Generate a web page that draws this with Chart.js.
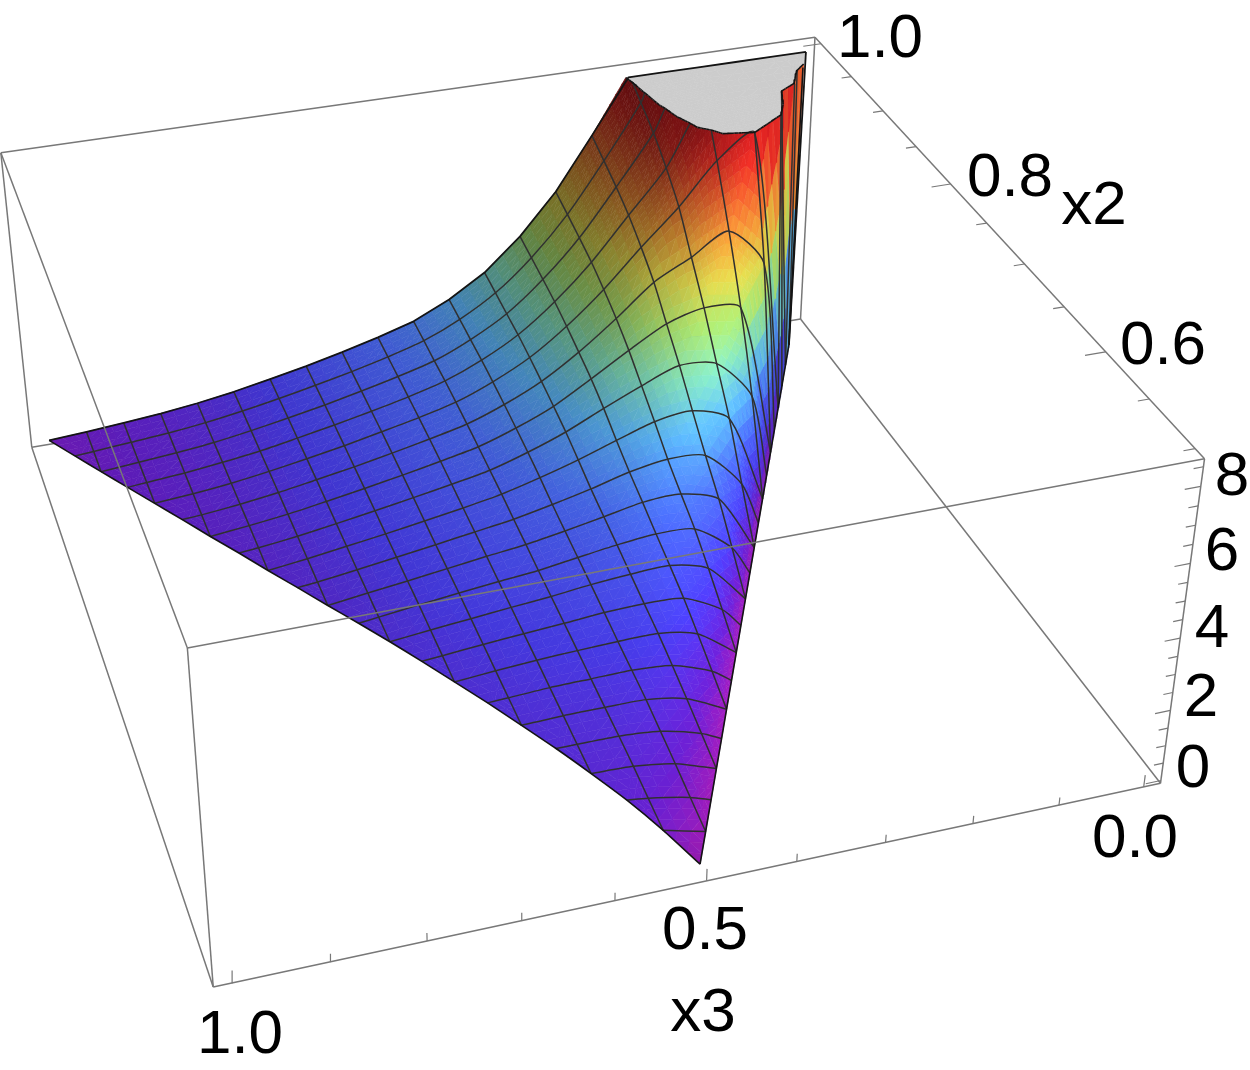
<!DOCTYPE html>
<html><head><meta charset="utf-8"><style>html,body{margin:0;padding:0;background:#fff}canvas{display:block}</style>
<script src="https://cdn.jsdelivr.net/npm/chart.js@4"></script></head><body><canvas id="c" width="1250" height="1070"></canvas>
<script>
// Tick values of the three axes
const x3TickValues=[0,.1,.2,.3,.4,.5,.6,.7,.8,.9,1];
const x2TickValues=[.5,.55,.6,.65,.7,.75,.8,.85,.9,.95,1];
const zTickValues=[0,.5,1,1.5,2,2.5,3,3.5,4,4.5,5,5.5,6,6.5,7,7.5,8,8.5];
// Surface height z, one list per mesh row x2 = 0.5 + j/42,
// running in x3 from the edge x3 = 1-x2, through the mesh values k/21, to the edge x3 = x2.
const zRow00=[0.05];
const zRow01=[0.05,0.34];
const zRow02=[0.05,0.24,0.47,0.54];
const zRow03=[0.05,0.44,0.61,0.65];
const zRow04=[0.05,0.32,0.62,0.72,0.73,0.73];
const zRow05=[0.05,0.59,0.80,0.81,0.81,0.77];
const zRow06=[0.05,0.44,0.84,0.93,0.91,0.89,0.83,0.80];
const zRow07=[0.05,0.83,1.07,1.06,1.02,0.97,0.89,0.80];
const zRow08=[0.05,0.63,1.19,1.25,1.21,1.12,1.04,0.95,0.85,0.80];
const zRow09=[0.05,1.18,1.48,1.44,1.35,1.22,1.12,1.01,0.90,0.78];
const zRow10=[0.05,0.91,1.69,1.75,1.64,1.48,1.31,1.20,1.08,0.95,0.81,0.74];
const zRow11=[0.05,1.73,2.08,2.04,1.82,1.61,1.42,1.28,1.13,0.98,0.84,0.69];
const zRow12=[0.05,1.34,2.40,2.49,2.31,2.01,1.75,1.52,1.35,1.18,1.02,0.86,0.71,0.65];
const zRow13=[0.05,2.69,3.12,2.99,2.63,2.25,1.92,1.63,1.42,1.24,1.06,0.90,0.74,0.60];
const zRow14=[0.05,2.57,3.74,3.87,3.46,2.98,2.47,2.06,1.72,1.50,1.30,1.11,0.93,0.76,0.62,0.57];
const zRow15=[0.05,4.64,4.82,4.53,3.93,3.27,2.64,2.18,1.81,1.57,1.35,1.15,0.96,0.78,0.64,0.52];
const zRow16=[0.05,5.22,6.35,5.76,5.20,4.31,3.49,2.80,2.29,1.89,1.63,1.40,1.18,0.99,0.80,0.65,0.53,0.49];
const zRow17=[0.05,8.51,7.87,6.70,5.69,4.62,3.70,2.94,2.39,1.96,1.68,1.44,1.21,1.01,0.82,0.66,0.54,0.45];
const zRow18=[0.05,11.7,11.2,9.24,7.33,6.11,4.89,3.88,3.06,2.47,2.02,1.72,1.47,1.24,1.03,0.83,0.68,0.55,0.46,0.41];
const zRow19=[0.05,17.5,13.3,10.1,7.85,6.43,5.09,4.01,3.14,2.53,2.06,1.76,1.50,1.26,1.05,0.85,0.68,0.56,0.46,0.37];
const zRow20=[0.05,28.1,22.0,14.8,10.9,8.25,6.70,5.27,4.13,3.23,2.59,2.11,1.79,1.52,1.28,1.06,0.86,0.69,0.56,0.47,0.38,0.34];
const zRow21=[60.0,40.2,25.0,16.1,11.5,8.65,6.96,5.44,4.25,3.31,2.65,2.15,1.83,1.55,1.30,1.08,0.87,0.70,0.57,0.47,0.38,0.31];
const zRows=[zRow00,zRow01,zRow02,zRow03,zRow04,zRow05,zRow06,zRow07,zRow08,zRow09,zRow10,zRow11,zRow12,zRow13,zRow14,zRow15,zRow16,zRow17,zRow18,zRow19,zRow20,zRow21];
const X3R=[-.02,1.02],X2R=[.49,1.01],ZR=[-.08,8.7],TOP=8.52,NR=21;
const corners=[[0,0,0,1161,783],[1,0,0,213.5,987],[0,1,0,800,319.5],[1,1,0,31.7,447],[0,0,1,1204,459],[1,0,1,187,648],[0,1,1,815.5,37],[1,1,1,1,153]];
function solve(A,b){const n=b.length;for(let i=0;i<n;i++){let m=i;for(let r=i+1;r<n;r++)if(Math.abs(A[r][i])>Math.abs(A[m][i]))m=r;[A[i],A[m]]=[A[m],A[i]];[b[i],b[m]]=[b[m],b[i]];for(let r=i+1;r<n;r++){const f=A[r][i]/A[i][i];for(let c=i;c<n;c++)A[r][c]-=f*A[i][c];b[r]-=f*b[i];}}const x=Array(n).fill(0);for(let i=n-1;i>=0;i--){let s=b[i];for(let c=i+1;c<n;c++)s-=A[i][c]*x[c];x[i]=s/A[i][i];}return x;}
const P=(()=>{const N=Array.from({length:11},()=>Array(11).fill(0)),B=Array(11).fill(0);for(const[a,b,c,u,v]of corners){for(const[row,r]of[[[a,b,c,1,0,0,0,0,-a*u,-b*u,-c*u],u],[[0,0,0,0,a,b,c,1,-a*v,-b*v,-c*v],v]]){for(let i=0;i<11;i++){B[i]+=row[i]*r;for(let k=0;k<11;k++)N[i][k]+=row[i]*row[k];}}}return solve(N,B);})();
function proj(x3,x2,z){const a=(x3-X3R[0])/(X3R[1]-X3R[0]),b=(x2-X2R[0])/(X2R[1]-X2R[0]),c=(z-ZR[0])/(ZR[1]-ZR[0]);const w=P[8]*a+P[9]*b+P[10]*c+1;return{x:(P[0]*a+P[1]*b+P[2]*c+P[3])/w,y:(P[4]*a+P[5]*b+P[6]*c+P[7])/w,w};}
const rowU=j=>{const l=[];for(let u=NR-j;u<=NR+j;u++)if(u==NR-j||u==NR+j||u%2==0)l.push(u);return l;};
const rows=zRows.map((zs,j)=>{const us=rowU(j);return us.map((u,i)=>({x3:u/42,x2:.5+j/42,z:zs[i],j,i,u}));});
function zAt(j,u){const r=rows[j];if(!r||u<r[0].u||u>r[r.length-1].u)return null;for(let i=0;i<r.length-1;i++)if(u<=r[i+1].u){const f=(u-r[i].u)/(r[i+1].u-r[i].u);return r[i].z+f*(r[i+1].z-r[i].z);}return r[r.length-1].z;}
const kZ=.4/8.78;
const L=[-.5,-.4,.76];
for(const r of rows)for(const n of r){const i=n.i;const a=r[Math.max(0,i-1)],b=r[Math.min(r.length-1,i+1)];
 const zz=q=>Math.min(q,TOP*1.3);
 let gx=(b.x3>a.x3)?(zz(b.z)-zz(a.z))/(b.x3-a.x3)*kZ:0;
 const u1=zAt(n.j+1,n.u),d1=zAt(n.j-1,n.u);let gy=0;const c=zz(n.z);
 if(u1!=null&&d1!=null)gy=(zz(u1)-zz(d1))/(2/42);else if(u1!=null)gy=(zz(u1)-c)/(1/42);else if(d1!=null)gy=(c-zz(d1))/(1/42);
 gy*=.52*kZ;const m=Math.hypot(gx,gy,1);const d=(-gx*L[0]-gy*L[1]+L[2])/m;n.s=.42+.7*Math.max(0,d);}
const stops=[[0,155,25,170],[.05,100,30,200],[.12,72,60,235],[.22,75,110,250],[.32,90,180,250],[.42,130,225,190],[.52,175,235,115],[.62,235,225,80],[.72,255,170,60],[.82,255,110,50],[.92,250,50,40],[1,230,30,35]];
function col(z,s){const t=Math.max(0,Math.min(1,z/TOP));let k=0;while(k<stops.length-2&&t>stops[k+1][0])k++;const A=stops[k],B=stops[k+1],f=(t-A[0])/(B[0]-A[0]);const c=[1,2,3].map(i=>Math.min(255,Math.round((A[i]+f*(B[i]-A[i]))*s)));return`rgb(${c[0]},${c[1]},${c[2]})`;}
const ds=[];
function poly(pts,color,lw,order,fill,tension){ds.push({type:'scatter',data:pts,showLine:true,fill:fill?'shape':false,backgroundColor:fill?color:'transparent',borderColor:color,borderWidth:lw,pointRadius:0,tension:tension||0,order,clip:false,borderJoinStyle:'round'});}
function line3(a,b,color,lw,order){const p=proj(...a),q=proj(...b);poly([{x:p.x,y:p.y},{x:q.x,y:q.y}],color,lw,order,false);}
const tris=[];for(let j=0;j<NR;j++){const A=rows[j],B=rows[j+1];let i=0,k=0;while(i<A.length-1||k<B.length-1){const na=i<A.length-1?A[i+1].u:1e9,nb=k<B.length-1?B[k+1].u:1e9;if(na<=nb&&i<A.length-1){tris.push([A[i],B[k],A[i+1]]);i++;}else{tris.push([A[i],B[k],B[k+1]]);k++;}}}
const subs=[];const contour=[];
function mid(a,b,f){return{x3:a.x3+f*(b.x3-a.x3),x2:a.x2+f*(b.x2-a.x2),z:a.z+f*(b.z-a.z),s:a.s+f*(b.s-a.s)};}
function addSub(p){const below=[],above=[];for(let i=0;i<p.length;i++){const a=p[i],b=p[(i+1)%p.length];if(a.z<=TOP)below.push(a);else above.push(a);if((a.z<=TOP)!=(b.z<=TOP)){const m=mid(a,b,(TOP-a.z)/(b.z-a.z));below.push(m);above.push(m);}}
 const ctr=q=>q.reduce((s,n)=>s+proj(n.x3,n.x2,Math.min(n.z,TOP)).w,0)/q.length;
 if(below.length>=3){const zm=below.reduce((s,n)=>s+n.z,0)/below.length,sm=below.reduce((s,n)=>s+n.s,0)/below.length;subs.push({w:ctr(below),c:col(zm,sm),pts:below.map(n=>{const q=proj(n.x3,n.x2,n.z);return{x:q.x,y:q.y};})});}
 if(above.length>=3){subs.push({w:ctr(above)-1,c:'rgb(204,204,204)',pts:above.map(n=>{const q=proj(n.x3,n.x2,TOP);return{x:q.x,y:q.y};})});}
 if(below.length>0&&above.length>0){const cs=[];for(let i=0;i<p.length;i++){const a=p[i],b=p[(i+1)%p.length];if((a.z<=TOP)!=(b.z<=TOP))cs.push(mid(a,b,(TOP-a.z)/(b.z-a.z)));}if(cs.length==2)contour.push(cs);}}
for(const t of tris){const zs=t.map(n=>Math.min(n.z,TOP*1.5));const rg=Math.max(...zs)-Math.min(...zs);const N=rg>1.5?6:rg>.3?4:3;const[a,b,c]=t.map(n=>({...n,z:Math.min(n.z,TOP*3)}));
 const pt=(i,k)=>{const l=N-i-k;return{x3:(a.x3*l+b.x3*i+c.x3*k)/N,x2:(a.x2*l+b.x2*i+c.x2*k)/N,z:(a.z*l+b.z*i+c.z*k)/N,s:(a.s*l+b.s*i+c.s*k)/N};};
 for(let i=0;i<N;i++)for(let k=0;k<N-i;k++){addSub([pt(i,k),pt(i+1,k),pt(i,k+1)]);if(i+k<N-1)addSub([pt(i+1,k),pt(i+1,k+1),pt(i,k+1)]);}}
subs.sort((p,q)=>q.w-p.w);
const GRAY='rgb(120,120,120)';
line3([X3R[0],X2R[0],ZR[0]],[X3R[1],X2R[0],ZR[0]],GRAY,1.5,2e6);
line3([X3R[1],X2R[0],ZR[0]],[X3R[1],X2R[1],ZR[0]],GRAY,1.5,2e6);
line3([X3R[1],X2R[1],ZR[0]],[X3R[0],X2R[1],ZR[0]],GRAY,1.5,2e6);
line3([X3R[0],X2R[1],ZR[0]],[X3R[0],X2R[0],ZR[0]],GRAY,1.5,2e6);
for(const[a,b]of[[X3R[1],X2R[1]],[X3R[0],X2R[1]],[X3R[1],X2R[0]],[X3R[0],X2R[0]]])line3([a,b,ZR[0]],[a,b,ZR[1]],GRAY,1.5,2e6);
line3([X3R[1],X2R[1],ZR[1]],[X3R[0],X2R[1],ZR[1]],GRAY,1.5,2e6);
line3([X3R[0],X2R[1],ZR[1]],[X3R[0],X2R[0],ZR[1]],GRAY,1.5,2e6);
for(const v of x3TickValues){const L=(v==0||v==.5||v==1)?.34:.22;line3([v,X2R[0],ZR[0]],[v,X2R[0],ZR[0]+L],GRAY,1.2,2e6);}
for(const v of x2TickValues){const L=(Math.round(v*100)%20==0)?.024:.013;line3([X3R[0],v,ZR[1]],[X3R[0]+L,v,ZR[1]],GRAY,1.2,2e6);}
for(const v of zTickValues){const L=(v%2==0)?.018:.011;line3([X3R[0],X2R[0],v],[X3R[0]+L,X2R[0],v],GRAY,1.2,2e6);}
subs.forEach((s,i)=>poly(s.pts,s.c,.8,1e6-i,true));
const MESH='rgb(48,48,48)';
function clipped(nodes,color,lw,order,tn){let cur=[];const out=()=>{if(cur.length>1)poly(cur,color,lw,order,false,tn);cur=[];};for(let i=0;i<nodes.length;i++){const a=nodes[i];if(a.z<=TOP){const q=proj(a.x3,a.x2,a.z);cur.push({x:q.x,y:q.y});}
 if(i<nodes.length-1){const b=nodes[i+1];if((a.z<=TOP)!=(b.z<=TOP)){const f=(TOP-a.z)/(b.z-a.z);const q=proj(a.x3+f*(b.x3-a.x3),a.x2+f*(b.x2-a.x2),TOP);cur.push({x:q.x,y:q.y});if(a.z<=TOP)out();}else if(a.z>TOP)out();}}out();}
for(let j=1;j<NR;j++)clipped(rows[j],MESH,1.5,500,.25);
for(let u=2;u<42;u+=2){const l=[];for(let j=NR;j>=0;j--){const r=rows[j];const n=r.find(q=>q.u==u);if(n)l.push(n);}clipped(l,MESH,1.5,500,.25);}
const EDGE='rgb(20,20,20)';
const ab=rows.map(r=>r[r.length-1]),bc=rows.map(r=>r[0]);
clipped(ab,EDGE,1.6,400,.2);clipped(bc,EDGE,1.6,400,0);
poly(rows[NR].map(n=>{const q=proj(n.x3,n.x2,Math.min(n.z,TOP));return{x:q.x,y:q.y};}),EDGE,1.8,400,false);
{const n=rows[NR][0],q=proj(n.x3,n.x2,TOP),m=bc[NR-1],p=proj(m.x3,m.x2,m.z);poly([{x:p.x,y:p.y},{x:q.x,y:q.y}],EDGE,1.8,400,false);}
for(const cs of contour){const p=cs.map(n=>{const q=proj(n.x3,n.x2,TOP);return{x:q.x,y:q.y};});poly(p,EDGE,1.6,400,false);}
line3([X3R[1],X2R[1],ZR[1]],[X3R[1],X2R[0],ZR[1]],GRAY,1.5,100);
line3([X3R[1],X2R[0],ZR[1]],[X3R[0],X2R[0],ZR[1]],GRAY,1.5,100);
const texts=[['1.0',880,40],['0.8',1010,179],['x2',1094,207],['0.6',1163,347],['8',1232,478],['6',1222,553],['4',1212,630],['2',1201,699],['0',1193,770],['0.0',1135,840],['0.5',705,932],['x3',703,1014],['1.0',240,1036]];
const labels={id:'labels',afterDraw(ch){const c=ch.ctx;c.save();c.font='62px "Liberation Sans"';c.fillStyle='#000';c.textAlign='center';c.textBaseline='middle';for(const[t,x,y]of texts)c.fillText(t,ch.scales.x.getPixelForValue(x),ch.scales.y.getPixelForValue(y));c.restore();}};
new Chart(document.getElementById('c'),{type:'scatter',data:{datasets:ds},plugins:[labels],options:{responsive:false,animation:false,events:[],layout:{padding:0},plugins:{legend:{display:false},tooltip:{enabled:false}},scales:{x:{type:'linear',min:0,max:1250,display:false},y:{type:'linear',min:0,max:1070,reverse:true,display:false}}}});
</script></body></html>
